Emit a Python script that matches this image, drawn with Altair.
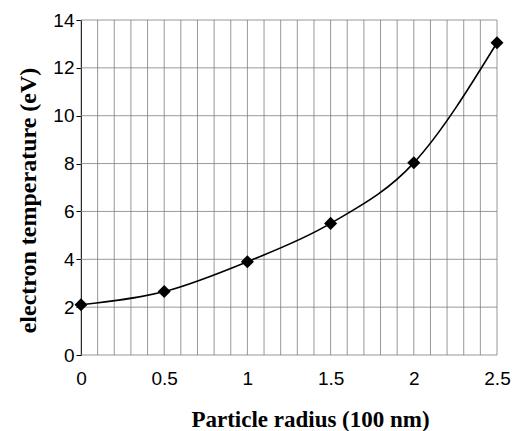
import altair as alt
import pandas as pd

radius = [0, 0.5, 1.0, 1.5, 2.0, 2.5]
temperature = [2.1, 2.65, 3.9, 5.5, 8.03, 13.05]

x_ticks = [0, 0.5, 1, 1.5, 2, 2.5]
x_grid = [round(i * 0.1, 1) for i in range(26)]
y_ticks = [0, 2, 4, 6, 8, 10, 12, 14]

df = pd.DataFrame({"r": radius, "T": temperature})
grid_v = pd.DataFrame({"r": x_grid})
grid_h = pd.DataFrame({"T": y_ticks})

xs = alt.Scale(domain=[0, 2.5], nice=False, zero=False)
ys = alt.Scale(domain=[0, 14], nice=False)

x_axis = alt.Axis(
    values=x_ticks,
    format="~g",
    grid=False,
    ticks=False,
    domain=False,
    labelFlush=False,
    labelPadding=14,
    labelFont="Liberation Sans",
    labelFontSize=19,
    labelColor="black",
    titleFont="Liberation Serif",
    titleFontSize=23,
    titleFontWeight="bold",
    titleColor="black",
    titlePadding=20,
    titleX=229,
)
y_axis = alt.Axis(
    values=y_ticks,
    grid=False,
    ticks=True,
    tickSize=5,
    tickColor="black",
    domain=True,
    domainColor="black",
    labelFlush=False,
    labelPadding=2,
    labelFont="Liberation Sans",
    labelFontSize=19,
    labelColor="black",
    titleFont="Liberation Serif",
    titleFontSize=24,
    titleFontWeight="bold",
    titleColor="black",
    titleBaseline="middle",
    titleX=-53,
    titleY=180,
)


def X():
    return alt.X("r:Q", scale=xs, title="Particle radius (100 nm)", axis=x_axis)


def Y():
    return alt.Y("T:Q", scale=ys, title="electron temperature (eV)", axis=y_axis)


vlines = alt.Chart(grid_v).mark_rule(color="#777777", strokeWidth=1, opacity=0.75).encode(x=X())
hlines = alt.Chart(grid_h).mark_rule(color="#777777", strokeWidth=1, opacity=0.75).encode(y=Y())

line = alt.Chart(df).mark_line(color="black", strokeWidth=1.6, interpolate="monotone").encode(x=X(), y=Y())

points = alt.Chart(df).mark_point(shape="diamond", filled=True, color="black", size=170, opacity=1).encode(
    x=X(), y=Y()
)

chart = (
    alt.layer(vlines, hlines, line, points)
    .properties(
        width=416,
        height=335,
        autosize=alt.AutoSizeParams(type="none"),
        padding={"left": 73, "top": 12, "right": 15, "bottom": 76},
        background="white",
    )
    .configure_view(stroke=None)
)

chart.save("out.html", embed_options={"renderer": "svg", "actions": False})
